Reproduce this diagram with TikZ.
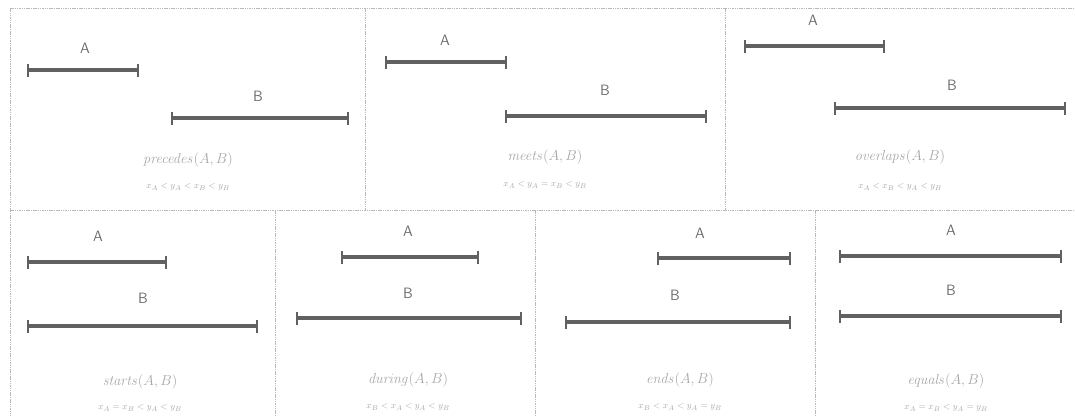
\documentclass[tikz,border=0pt]{standalone}
\usetikzlibrary{arrows.meta}
\begin{document}
\begin{tikzpicture}[x=1pt,y=-1pt,
  frame/.style={draw=gray!55, line width=0.7pt, dash pattern=on 1.5pt off 0.8pt},
  ivbar/.style={draw=black!62, line width=3.4pt, {Bar[width=13pt,line width=1.3pt]}-{Bar[width=13pt,line width=1.3pt]}, shorten <=-0.7pt, shorten >=-0.7pt},
  lbl/.style={font=\sffamily\fontsize{15}{15}\selectfont, text=gray!85!black},
  ttl/.style={font=\fontsize{13.5}{13.5}\selectfont, text=gray!70},
  fml/.style={font=\fontsize{9.5}{9.5}\selectfont, text=gray!70}]
\useasboundingbox (0,0) rectangle (1075,416);
% frames
\draw[frame] (10,8) -- (1075,8);
\draw[frame] (10,8) -- (10,416);
\draw[frame] (10,210) -- (1075,210);
\draw[frame] (365,8) -- (365,210);
\draw[frame] (725,8) -- (725,210);
\draw[frame] (275,210) -- (275,416);
\draw[frame] (535,210) -- (535,416);
\draw[frame] (815,210) -- (815,416);
% panel 1: precedes
\coordinate (p1a1) at (28,70); \coordinate (p1a2) at (138,70);
\coordinate (p1b1) at (172,118); \coordinate (p1b2) at (348,118);
\node[lbl] (p1A) at (85,48) {A};
\node[lbl] (p1B) at (258,96) {B};
\draw[ivbar] (p1a1) -- (p1a2);
\draw[ivbar] (p1b1) -- (p1b2);
\node[ttl] (p1t) at (188,160) {$\mathit{precedes}(A,B)$};
\node[fml] (p1f) at (188,187) {$x_A < y_A < x_B < y_B$};
% panel 2: meets
\coordinate (p2a1) at (386,62); \coordinate (p2a2) at (506,62);
\coordinate (p2b1) at (506,116); \coordinate (p2b2) at (706,116);
\node[lbl] (p2A) at (445,40) {A};
\node[lbl] (p2B) at (605,90) {B};
\draw[ivbar] (p2a1) -- (p2a2);
\draw[ivbar] (p2b1) -- (p2b2);
\node[ttl] (p2t) at (545,157) {$\mathit{meets}(A,B)$};
\node[fml] (p2f) at (545,185) {$x_A < y_A = x_B < y_B$};
% panel 3: overlaps
\coordinate (p3a1) at (745,46); \coordinate (p3a2) at (884,46);
\coordinate (p3b1) at (835,108); \coordinate (p3b2) at (1065,108);
\node[lbl] (p3A) at (813,20) {A};
\node[lbl] (p3B) at (952,85) {B};
\draw[ivbar] (p3a1) -- (p3a2);
\draw[ivbar] (p3b1) -- (p3b2);
\node[ttl] (p3t) at (900,157) {$\mathit{overlaps}(A,B)$};
\node[fml] (p3f) at (900,187) {$x_A < x_B < y_A < y_B$};
% panel 4: starts
\coordinate (p4a1) at (28,262); \coordinate (p4a2) at (166,262);
\coordinate (p4b1) at (28,326); \coordinate (p4b2) at (257,326);
\node[lbl] (p4A) at (98,236) {A};
\node[lbl] (p4B) at (143,298) {B};
\draw[ivbar] (p4a1) -- (p4a2);
\draw[ivbar] (p4b1) -- (p4b2);
\node[ttl] (p4t) at (140,382) {$\mathit{starts}(A,B)$};
\node[fml] (p4f) at (140,408) {$x_A = x_B < y_A < y_B$};
% panel 5: during
\coordinate (p5a1) at (342,257); \coordinate (p5a2) at (478,257);
\coordinate (p5b1) at (297,318); \coordinate (p5b2) at (521,318);
\node[lbl] (p5A) at (408,231) {A};
\node[lbl] (p5B) at (408,293) {B};
\draw[ivbar] (p5a1) -- (p5a2);
\draw[ivbar] (p5b1) -- (p5b2);
\node[ttl] (p5t) at (408,380) {$\mathit{during}(A,B)$};
\node[fml] (p5f) at (408,407) {$x_B < x_A < y_A < y_B$};
% panel 6: ends
\coordinate (p6a1) at (658,258); \coordinate (p6a2) at (790,258);
\coordinate (p6b1) at (566,322); \coordinate (p6b2) at (790,322);
\node[lbl] (p6A) at (700,233) {A};
\node[lbl] (p6B) at (675,295) {B};
\draw[ivbar] (p6a1) -- (p6a2);
\draw[ivbar] (p6b1) -- (p6b2);
\node[ttl] (p6t) at (680,380) {$\mathit{ends}(A,B)$};
\node[fml] (p6f) at (680,407) {$x_B < x_A < y_A = y_B$};
% panel 7: equals
\coordinate (p7a1) at (840,256); \coordinate (p7a2) at (1061,256);
\coordinate (p7b1) at (840,316); \coordinate (p7b2) at (1061,316);
\node[lbl] (p7A) at (951,230) {A};
\node[lbl] (p7B) at (951,290) {B};
\draw[ivbar] (p7a1) -- (p7a2);
\draw[ivbar] (p7b1) -- (p7b2);
\node[ttl] (p7t) at (946,381) {$\mathit{equals}(A,B)$};
\node[fml] (p7f) at (946,408) {$x_A = x_B < y_A = y_B$};
\end{tikzpicture}
\end{document}
